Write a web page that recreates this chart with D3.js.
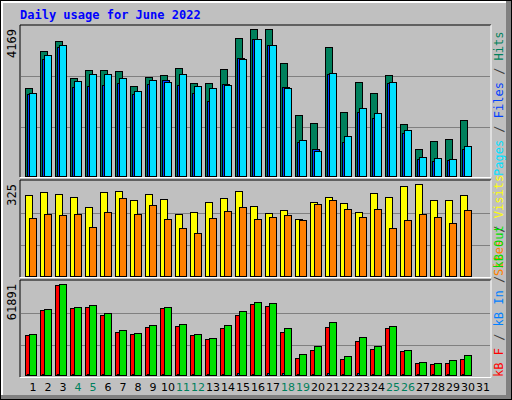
<!DOCTYPE html>
<html><head><meta charset="utf-8">
<script src="https://cdn.jsdelivr.net/npm/d3@7"></script>
<style>body{margin:0;background:#fff}</style></head>
<body><svg id="c" width="512" height="400"></svg>
<script>
const days = d3.range(1, 32);
const weekend = [4,5,11,12,18,19,25,26];
const hits  = [2499,3546,3829,2782,3009,3009,2981,2556,2811,2867,3065,2641,2641,3037,3914,4169,4169,3207,1735,1509,3660,1820,2669,2358,2867,1481,773,1000,1056,1594,0];
const files = [2339,3320,3669,2528,2556,2584,2641,2330,2613,2726,2584,2358,2132,2613,3348,3886,3716,2528,971,773,2896,971,1820,1651,2641,1226,490,434,462,773,0];
const pages = [2358,3433,3716,2698,2896,2896,2782,2415,2726,2669,2896,2556,2499,2584,3320,3886,3716,2499,1028,717,2924,1141,1934,1792,2669,1311,547,519,490,858,0];
const visits = [286,297,290,279,244,297,300,268,290,272,219,226,261,276,300,247,223,233,201,261,279,258,226,293,279,318,325,268,268,286,0];
const sites  = [205,219,215,219,173,226,276,219,251,201,170,152,205,230,244,201,208,215,198,254,268,237,208,237,170,198,219,208,187,233,0];
const kbF   = [27204,44207,61209,45567,46247,40806,29244,27884,32645,45567,33325,27204,24484,31965,40806,48287,46927,29244,11562,17003,32645,10882,23123,17683,31965,16322,8161,7481,8161,10882,0];
const kbIn  = [900,900,900,900,900,900,900,900,900,900,900,900,900,900,1400,900,1400,1400,900,900,1400,900,1400,900,900,500,500,500,500,900,0];
const kbOut = [27884,44887,61891,46247,47607,42166,30605,28564,34005,46247,34685,27884,25164,34005,43526,49647,48967,31965,14282,19723,36045,12922,25844,19723,33325,17003,8841,8161,10202,13602,0];
const maxTop = 4169, maxMid = 325, maxBot = 61891;

const svg = d3.select("#c");
const mono = "'DejaVu Sans Mono', monospace";
// frame
svg.append("rect").attr("x",0).attr("y",0).attr("width",512).attr("height",400).attr("fill","#000");
svg.append("rect").attr("x",1).attr("y",1).attr("width",510).attr("height",398).attr("fill","#808080");
svg.append("rect").attr("x",1).attr("y",1).attr("width",505).attr("height",394).attr("fill","#fff");
svg.append("rect").attr("x",3).attr("y",3).attr("width",503).attr("height",392).attr("fill","#c0c0c0");

const x = d3.scaleBand().domain(days).range([22, 22 + 31*15]);
const panels = [
  {top:25, bot:177, y0:176, y1:29, max:maxTop, series:[[hits,"#00805c",3],[files,"#0040ff",5],[pages,"#00e0ff",7]], label:"4169"},
  {top:180, bot:277, y0:276, y1:184, max:maxMid, series:[[visits,"#ffff00",3],[sites,"#ff8000",7]], label:"325"},
  {top:280, bot:377, y0:375, y1:284, max:maxBot, series:[[kbF,"#ff0000",3],[kbIn,"#0080ff",5],[kbOut,"#00e000",7]], label:"61891"}
];
panels.forEach(p => {
  const y = d3.scaleLinear().domain([0,p.max]).range([p.y0,p.y1]);
  svg.append("path").attr("d",`M20,${p.bot}V${p.top}H491`).attr("stroke","#000").attr("fill","none");
  svg.append("path").attr("d",`M20,${p.bot+0.5}H491V${p.top}`).attr("stroke","#fff").attr("fill","none");
  [1/3, 0.68].forEach(f => svg.append("line").attr("x1",21).attr("x2",490)
    .attr("y1",Math.round(y(p.max*f))+0.5).attr("y2",Math.round(y(p.max*f))+0.5).attr("stroke","#808080"));
  p.series.forEach(([vals,col,off]) => {
    svg.append("g").selectAll("rect").data(days.filter((d,i)=>vals[i]>0)).join("rect")
      .attr("x", d => x(d)+off+0.5).attr("width",7)
      .attr("y", d => Math.round(y(vals[d-1]))+0.5)
      .attr("height", d => Math.max(0, Math.round(p.y0 - y(vals[d-1]))))
      .attr("fill",col).attr("stroke","#000");
  });
  svg.append("text").attr("transform",`translate(16,${p.y1}) rotate(-90)`).attr("text-anchor","end")
    .attr("font-family",mono).attr("font-size",12).text(p.label);
});
// title
svg.append("text").attr("x",20).attr("y",19).attr("fill","#0000ff").attr("font-family",mono)
  .attr("font-weight","bold").attr("font-size",12).text("Daily usage for June 2022");
// right legends (read bottom to top)
function legend(yBottom, parts){
  const t = svg.append("text").attr("transform",`translate(503,${yBottom}) rotate(-90)`)
    .attr("font-family",mono).attr("font-size",12);
  parts.forEach(([s,c]) => t.append("tspan").attr("fill",c).text(s));
}
legend(176,[["Pages","#00e0ff"],[" / ","#404040"],["Files","#0040ff"],[" / ","#404040"],["Hits","#00805c"]]);
legend(276,[["Sites","#ff8000"],[" / ","#404040"],["Visits","#ffff00"]]);
legend(377,[["kB F","#ff0000"],[" / ","#404040"],["kB In","#0080ff"],[" / ","#404040"],["kB Out","#00e000"]]);
// day labels
svg.append("g").selectAll("text").data(days).join("text")
  .attr("x", d => x(d)+11).attr("y",391).attr("text-anchor","middle")
  .attr("font-family","'DejaVu Sans', sans-serif").attr("font-size",11)
  .attr("fill", d => weekend.includes(d) ? "#00805c" : "#000").text(d => d);
</script></body></html>
